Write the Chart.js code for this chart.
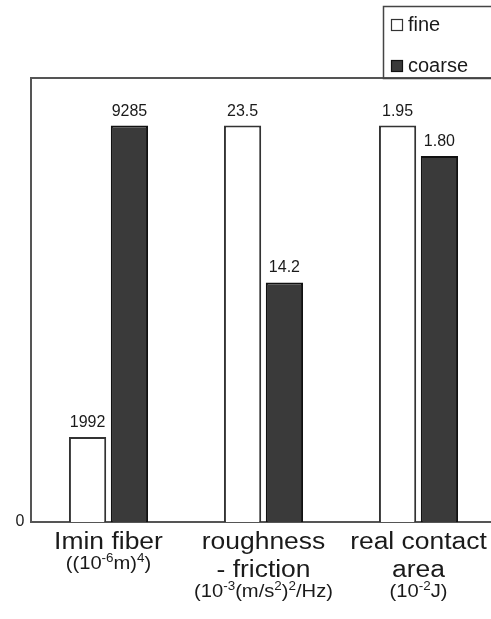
<!DOCTYPE html>
<html>
<head>
<meta charset="utf-8">
<script src="https://cdn.jsdelivr.net/npm/chart.js@4/dist/chart.umd.min.js"></script>
<style>
  html, body { margin: 0; padding: 0; background: #fff; overflow: hidden; }
  #wrap { width: 491px; height: 619px; overflow: hidden; }
</style>
</head>
<body>
<div id="wrap"><canvas id="chart" width="500" height="619"></canvas></div>
<script>
// values; each group is scaled to its own largest bar
const categories = [['Imin fiber'], ['roughness', '- friction'], ['real contact', 'area']];
const units = ['((10^{-6}m)^{4})', '(10^{-3}(m/s^{2})^{2}/Hz)', '(10^{-2}J)'];
const seriesNames = ['fine', 'coarse'];
const fineValues = [1992, 23.5, 1.95];
const coarseValues = [9285, 14.2, 1.80];
const valueDecimals = [0, 1, 2];
const yTicks = [0];

const FONT = '"Liberation Sans", Arial, Helvetica, sans-serif';
const TEXT = '#1a1a1a';

const groupMax = categories.map((c, i) => Math.max(fineValues[i], coarseValues[i]));
const norm = arr => arr.map((v, i) => v / groupMax[i]);
const rawValues = [fineValues, coarseValues];

// draws text pieces side by side, centred on cx, slightly widened like the original
function drawRuns(ctx, runs, cx, baseline, sx) {
  let total = 0;
  runs.forEach(r => {
    ctx.font = r.size + 'px ' + FONT;
    r.w = ctx.measureText(r.text).width;
    total += r.w;
  });
  ctx.save();
  ctx.translate(cx, baseline);
  ctx.scale(sx, 1);
  ctx.textAlign = 'left';
  ctx.textBaseline = 'alphabetic';
  let x = -total / 2;
  runs.forEach(r => {
    ctx.font = r.size + 'px ' + FONT;
    ctx.fillText(r.text, x, r.dy);
    x += r.w;
  });
  ctx.restore();
}

// "^{..}" marks a superscript
function unitRuns(str) {
  return str.split(/\^\{([^}]*)\}/)
    .map((p, k) => (k % 2 ? {text: p, size: 12, dy: -7} : {text: p, size: 18, dy: 0}))
    .filter(r => r.text !== '');
}

const framePlugin = {
  id: 'frame',
  beforeDatasetsDraw(chart) {
    const {ctx, chartArea: a} = chart;
    ctx.save();
    ctx.strokeStyle = '#555';
    ctx.lineWidth = 2;
    ctx.strokeRect(a.left, a.top, a.right - a.left + 20, a.bottom - a.top);
    ctx.restore();
  }
};

const labelPlugin = {
  id: 'labels',
  afterDatasetsDraw(chart) {
    const {ctx} = chart;
    ctx.save();
    ctx.fillStyle = TEXT;
    // values above bars
    chart.data.datasets.forEach((ds, d) => {
      chart.getDatasetMeta(d).data.forEach((bar, i) => {
        ctx.font = '16px ' + FONT;
        ctx.textAlign = 'center';
        ctx.textBaseline = 'alphabetic';
        ctx.fillText(rawValues[d][i].toFixed(valueDecimals[i]), bar.x, bar.y - 10);
      });
    });
    // y tick labels
    const ys = chart.scales.y;
    yTicks.forEach(v => {
      ctx.font = '16px ' + FONT;
      ctx.textAlign = 'center';
      ctx.textBaseline = 'middle';
      ctx.fillText(String(v), chart.chartArea.left - 11, ys.getPixelForValue(v));
    });
    // category labels with units
    const xs = chart.scales.x;
    categories.forEach((lines, i) => {
      const cx = xs.getPixelForValue(i);
      let base = 549;
      lines.forEach((line, k) => {
        base = 549 + k * 28;
        drawRuns(ctx, [{text: line, size: 23, dy: 0}], cx, base, 1.15);
      });
      drawRuns(ctx, unitRuns(units[i]), cx, base + 20, 1.12);
    });
    ctx.restore();
  }
};

const legendPlugin = {
  id: 'boxLegend',
  afterDraw(chart) {
    const {ctx} = chart;
    ctx.save();
    ctx.strokeStyle = '#444';
    ctx.lineWidth = 1.5;
    ctx.strokeRect(383.5, 6.5, 140, 72);
    chart.data.datasets.forEach((ds, d) => {
      const y = 19 + d * 41;
      ctx.fillStyle = ds.backgroundColor;
      ctx.fillRect(391, y, 12, 12);
      ctx.strokeStyle = ds.borderColor;
      ctx.lineWidth = 1.2;
      ctx.strokeRect(391.5, y + 0.5, 11, 11);
      ctx.fillStyle = TEXT;
      ctx.font = '20px ' + FONT;
      ctx.textAlign = 'left';
      ctx.textBaseline = 'alphabetic';
      ctx.fillText(ds.label, 408, y + 12);
    });
    ctx.restore();
  }
};

new Chart(document.getElementById('chart'), {
  type: 'bar',
  data: {
    labels: categories.map(c => c.join(' ')),
    datasets: [
      {
        label: seriesNames[0],
        data: norm(fineValues),
        backgroundColor: '#ffffff',
        borderColor: '#333333',
        borderWidth: 2
      },
      {
        label: seriesNames[1],
        data: norm(coarseValues),
        backgroundColor: '#3a3a3a',
        borderColor: '#111111',
        borderWidth: 2
      }
    ]
  },
  options: {
    responsive: false,
    animation: false,
    layout: {padding: {top: 78, right: 4, left: 0, bottom: 0}},
    datasets: {bar: {categoryPercentage: 0.54, barPercentage: 0.89}},
    plugins: {legend: {display: false}, tooltip: {enabled: false}},
    scales: {
      x: {
        grid: {display: false},
        border: {display: false},
        ticks: {display: false},
        afterFit: s => { s.height = 97; }
      },
      y: {
        min: 0,
        max: 1.12,
        grid: {display: false},
        border: {display: false},
        ticks: {display: false},
        afterFit: s => { s.width = 31; }
      }
    }
  },
  plugins: [framePlugin, labelPlugin, legendPlugin]
});
</script>
</body>
</html>
